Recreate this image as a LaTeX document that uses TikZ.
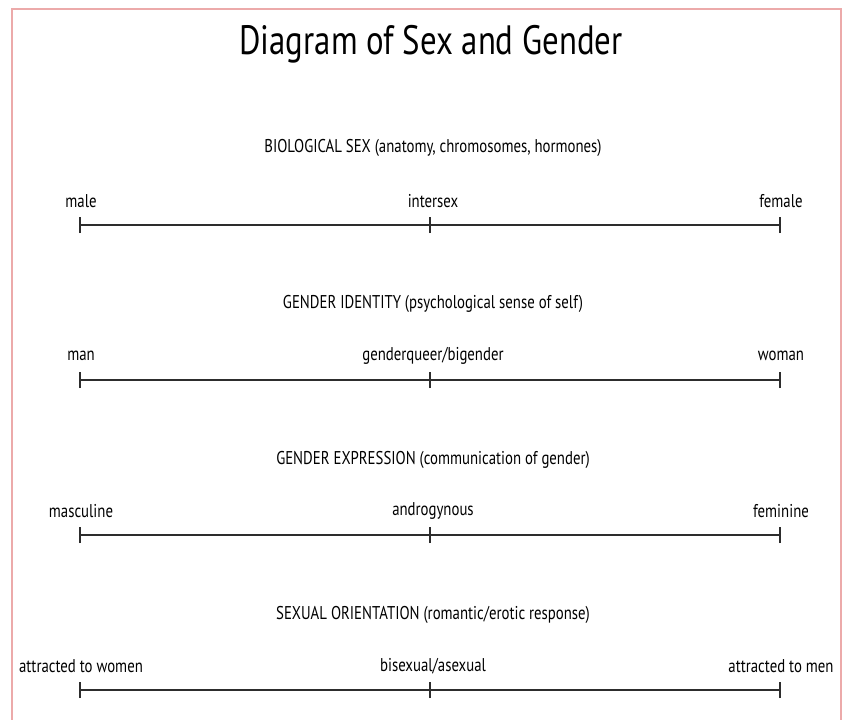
\documentclass[tikz,border=0pt]{standalone}
\usepackage{fontspec}
\setmainfont{PT Sans}
\usepackage{graphicx}
\definecolor{frame}{RGB}{236,170,170}
\definecolor{axis}{RGB}{45,45,45}
\begin{document}
\begin{tikzpicture}[x=1pt,y=-1pt,
  titletext/.style={font=\fontsize{41}{45}\selectfont, inner sep=0pt},
  headtext/.style={font=\fontsize{18.5}{20}\selectfont, inner sep=0pt},
  endtext/.style={font=\fontsize{18.5}{20}\selectfont, inner sep=0pt},
  axisline/.style={draw=axis, line width=2.8pt},
  tickmark/.style={draw=axis, line width=2pt}]
\useasboundingbox (0,0) rectangle (849,720);
\fill[white] (0,0) rectangle (849,720);
\draw[frame, line width=2pt] (12,722) -- (12,9) -- (841,9) -- (841,722);
\node[titletext] (title) at (431,44) {\scalebox{0.8}[1]{Diagram of Sex and Gender}};
% rows
\foreach \r/\yh/\ya/\h/\l/\m/\rr in {
  1/148/225/{BIOLOGICAL SEX (anatomy, chromosomes, hormones)}/male/intersex/female,
  2/304/380/{GENDER IDENTITY (psychological sense of self)}/man/genderqueer\slash bigender/woman,
  3/460/535/{GENDER EXPRESSION (communication of gender)}/masculine/androgynous/feminine,
  4/615/690/{SEXUAL ORIENTATION (romantic/erotic response)}/attracted to women/bisexual\slash asexual/attracted to men}
{
  \node[headtext] (head\r) at (433,\yh) {\scalebox{0.8}[1]{\h}};
  \coordinate (L\r) at (80,\ya);
  \coordinate (M\r) at (430,\ya);
  \coordinate (R\r) at (780,\ya);
  \node[endtext] (lt\r) at (81,\ya-24) {\scalebox{0.8}[1]{\l}};
  \node[endtext] (mt\r) at (433,\ya-24) {\scalebox{0.8}[1]{\m}};
  \node[endtext] (rt\r) at (781,\ya-24) {\scalebox{0.8}[1]{\rr}};
  \draw[axisline] (L\r) -- (R\r);
  \draw[tickmark] ([yshift=-8pt]L\r) -- ([yshift=8pt]L\r);
  \draw[tickmark] ([yshift=-8pt]M\r) -- ([yshift=8pt]M\r);
  \draw[tickmark] ([yshift=-8pt]R\r) -- ([yshift=8pt]R\r);
}
\end{tikzpicture}
\end{document}
